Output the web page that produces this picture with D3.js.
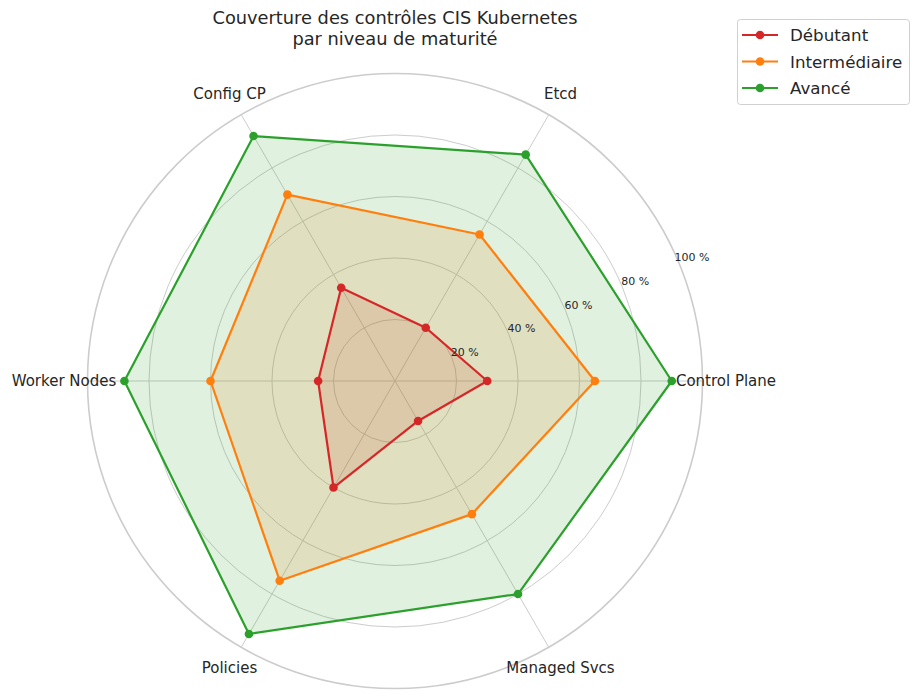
<!DOCTYPE html>
<html><head><meta charset="utf-8">
<script src="https://cdn.jsdelivr.net/npm/d3@7"></script>
<style>
body{margin:0;background:#fff;}
text{font-family:"DejaVu Sans",sans-serif;fill:#262626;}
</style></head>
<body><svg id="chart" width="919" height="699"></svg>
<script>
const categories = ["Control Plane","Etcd","Config CP","Worker Nodes","Policies","Managed Svcs"];
const seriesNames = ["Débutant","Intermédiaire","Avancé"];
const debutant = [30,20,35,25,40,15];
const intermediaire = [65,55,70,60,75,50];
const avance = [90,85,92,88,95,80];
const seriesColors = ["#d62728","#ff7f0e","#2ca02c"];
const rTicks = [20,40,60,80,100];
const rTickLabels = ["20 %","40 %","60 %","80 %","100 %"];
const titleLines = ["Couverture des contrôles CIS Kubernetes","par niveau de maturité"];

const svg = d3.select("#chart");
const cx = 395, cy = 381, R = 307.5;
const r = d3.scaleLinear().domain([0,100]).range([0,R]);
const ang = d3.scaleLinear().domain([0,categories.length]).range([0,2*Math.PI]);
const px = (i,v)=> cx + r(v)*Math.cos(ang(i));
const py = (i,v)=> cy - r(v)*Math.sin(ang(i));

const g = svg.append("g");
rTicks.forEach((t,k)=>{
  g.append("circle").attr("cx",cx).attr("cy",cy).attr("r",r(t))
   .attr("fill","none").attr("stroke","#cccccc")
   .attr("stroke-width", t===100?1.6:1);
});
categories.forEach((c,i)=>{
  g.append("line").attr("x1",cx).attr("y1",cy).attr("x2",px(i,100)).attr("y2",py(i,100))
   .attr("stroke","#cccccc").attr("stroke-width",1);
});

const data = [debutant,intermediaire,avance];
const line = d3.line().curve(d3.curveLinearClosed);
data.forEach((vals,s)=>{
  const pts = vals.map((v,i)=>[px(i,v),py(i,v)]);
  g.append("path").attr("d",line(pts)).attr("fill",seriesColors[s]).attr("fill-opacity",0.15).attr("stroke","none");
});
data.forEach((vals,s)=>{
  const pts = vals.map((v,i)=>[px(i,v),py(i,v)]);
  g.append("path").attr("d",line(pts)).attr("fill","none").attr("stroke",seriesColors[s]).attr("stroke-width",2.2).attr("stroke-linejoin","round");
  g.selectAll(null).data(pts).enter().append("circle")
   .attr("cx",d=>d[0]).attr("cy",d=>d[1]).attr("r",4.3).attr("fill",seriesColors[s]);
});

const la = 22.5*Math.PI/180;
rTicks.forEach((t,k)=>{
  const rr = r(t)+14;
  g.append("text").attr("x",cx+rr*Math.cos(la)).attr("y",cy-rr*Math.sin(la))
   .attr("text-anchor","middle").attr("dominant-baseline","central")
   .attr("font-size",11).text(rTickLabels[k]);
});

categories.forEach((c,i)=>{
  const rr = R+23.5;
  g.append("text").attr("x",cx+rr*Math.cos(ang(i))).attr("y",cy-rr*Math.sin(ang(i)))
   .attr("text-anchor","middle").attr("dominant-baseline","central")
   .attr("font-size",15).text(c);
});

titleLines.forEach((t,k)=>{
  svg.append("text").attr("x",395).attr("y",24+k*21).attr("text-anchor","middle")
   .attr("font-size",17.8).text(t);
});

const lg = svg.append("g");
lg.append("rect").attr("x",737.5).attr("y",19.5).attr("width",172).attr("height",85).attr("rx",3)
  .attr("fill","#fff").attr("stroke","#d0d0d0");
seriesNames.forEach((n,s)=>{
  const y = 35 + s*26.5;
  lg.append("line").attr("x1",742).attr("x2",778).attr("y1",y).attr("y2",y).attr("stroke",seriesColors[s]).attr("stroke-width",2.2);
  lg.append("circle").attr("cx",760).attr("cy",y).attr("r",4.3).attr("fill",seriesColors[s]);
  lg.append("text").attr("x",790).attr("y",y).attr("dominant-baseline","central").attr("font-size",16.7).text(n);
});
</script></body></html>
